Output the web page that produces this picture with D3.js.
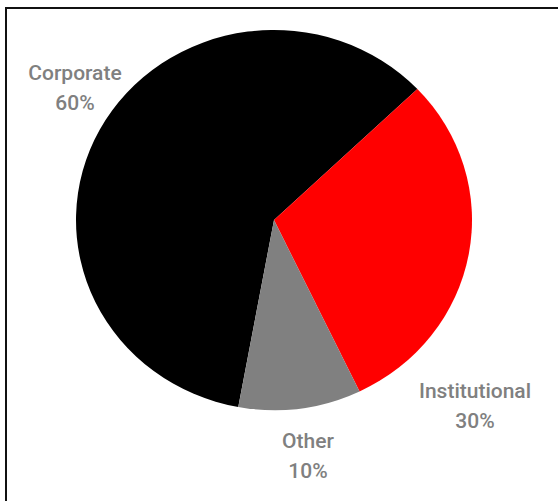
<!DOCTYPE html>
<html>
<head>
<meta charset="utf-8">
<script src="https://cdn.jsdelivr.net/npm/d3@7"></script>
<style>
  html, body { margin: 0; padding: 0; background: #fff; }
  svg { display: block; }
  .lbl { font-family: Roboto, "DejaVu Sans", sans-serif; font-size: 21px; font-weight: 500; fill: #808080; }
</style>
</head>
<body>
<div id="chart"></div>
<script>
// Revenue share by client segment
const categories = ["Corporate", "Institutional", "Other"];
const shares = [60, 30, 10];
const colours = ["#000000", "#ff0000", "#808080"];

const width = 558, height = 501;
const cx = 274, cy = 220, radius = 198, squash = 0.96;
// first slice begins at roughly 190° (clockwise from 12 o'clock)
const firstAngle = 190.4 * Math.PI / 180;

// label anchor points (centre of the two-line label block)
const labelAt = {
  Corporate: [75, 92],
  Institutional: [475, 410],
  Other: [308, 460]
};

const svg = d3.select("#chart").append("svg")
  .attr("width", width).attr("height", height);

svg.append("rect").attr("width", width).attr("height", height).attr("fill", "#fff");

// chart frame
svg.append("rect")
  .attr("x", 6).attr("y", 8)
  .attr("width", width + 10).attr("height", height + 10)
  .attr("fill", "none").attr("stroke", "#111").attr("stroke-width", 2);

const data = categories.map((c, i) => ({ name: c, value: shares[i], colour: colours[i] }));

const pie = d3.pie().value(d => d.value).sort(null)
  .startAngle(firstAngle).endAngle(firstAngle + 2 * Math.PI);
const arc = d3.arc().innerRadius(0).outerRadius(radius);

const g = svg.append("g")
  .attr("transform", `translate(${cx},${cy}) scale(1,${squash})`);

g.selectAll("path").data(pie(data)).join("path")
  .attr("d", arc)
  .attr("fill", d => d.data.colour);

const labels = svg.append("g").selectAll("text").data(data).join("text")
  .attr("class", "lbl")
  .attr("text-anchor", "middle")
  .attr("x", d => labelAt[d.name][0])
  .attr("y", d => labelAt[d.name][1]);

labels.append("tspan").attr("x", d => labelAt[d.name][0]).attr("dy", "-0.55em")
  .text(d => d.name);
labels.append("tspan").attr("x", d => labelAt[d.name][0]).attr("dy", "1.43em")
  .text(d => d.value + "%");
</script>
</body>
</html>
